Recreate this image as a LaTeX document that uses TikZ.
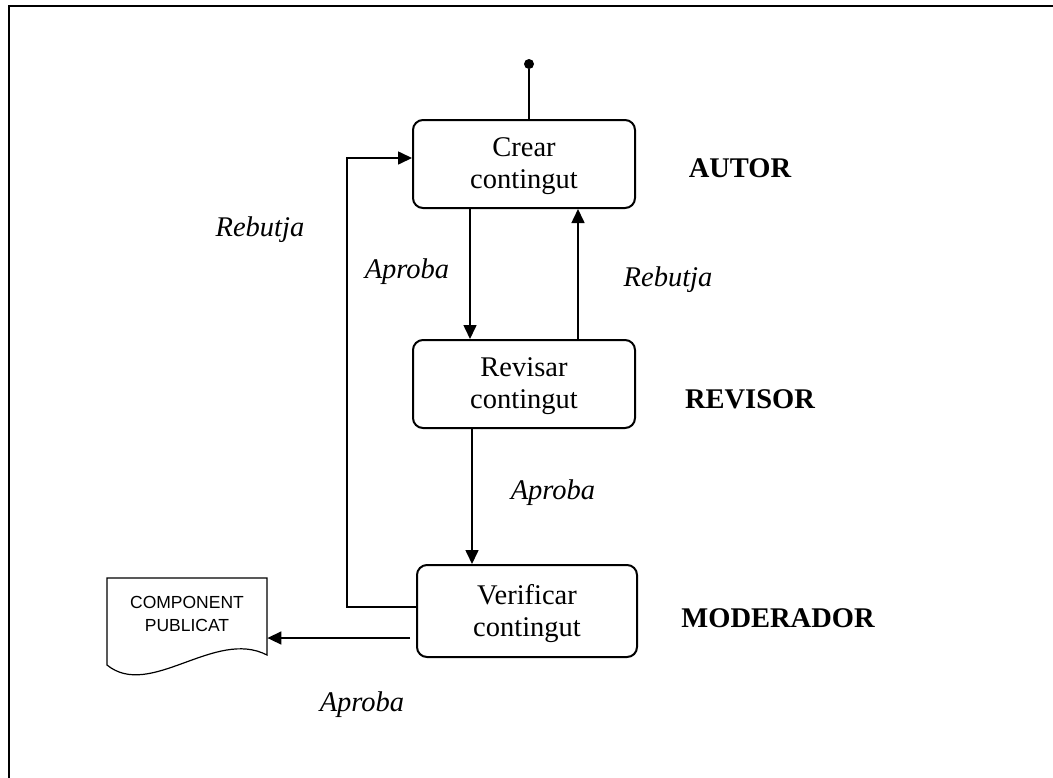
\documentclass[tikz,border=0pt]{standalone}
\usepackage{fontspec}
\setmainfont{Liberation Serif}
\newfontfamily\docfont{Liberation Sans}
\usetikzlibrary{arrows.meta}
\begin{document}
\begin{tikzpicture}[x=0.5pt,y=-0.5pt,
  every node/.style={font=\fontsize{14.25}{16}\selectfont},
  state/.style={draw, line width=1pt, rounded corners=5pt, align=center,
    minimum width=111pt, minimum height=44pt, inner sep=0pt, text depth=1pt},
  role/.style={font=\fontsize{14.25}{16}\selectfont\bfseries},
  cond/.style={font=\fontsize{14.25}{16}\selectfont\itshape},
  arr/.style={line width=0.8pt, -{Triangle[length=7pt,width=6.5pt]}},
  plain/.style={line width=0.8pt}]
\useasboundingbox (0,0) rectangle (1053,777);

% outer frame
\draw[line width=1pt] (1060,6) -- (9,6) -- (9,790);

% states
\node[state] (crear) at (524,164) {Crear\\contingut};
\node[state] (revisar) at (524,384) {Revisar\\contingut};
\node[state, minimum width=110pt, minimum height=46pt] (verificar) at (527,611) {Verificar\\contingut};

% initial point
\node[circle, fill, inner sep=0pt, minimum size=5pt] (start) at (529,64) {};
\draw[plain] (start) -- (crear.north -| start);

% columns and turning points
\coordinate (downA) at (470,0);
\coordinate (upR) at (578,0);
\coordinate (downB) at (472,0);
\coordinate (loopBot) at (347,607);
\coordinate (loopTop) at (347,158);
\coordinate (pubStart) at (410,638);

\draw[arr] (crear.south -| downA) -- (revisar.north -| downA);
\draw[arr] (revisar.north -| upR) -- (crear.south -| upR);
\draw[arr] (revisar.south -| downB) -- (verificar.north -| downB);
\draw[arr] (verificar.west |- loopBot) -- (loopBot) -- (loopTop) -- (crear.west |- loopTop);

% published document
\node[minimum width=80pt, minimum height=40pt, inner sep=0pt, align=center,
  font=\docfont\fontsize{8.75}{11.5}\selectfont] (doc) at (187,614) {COMPONENT\\PUBLICAT};
\draw[line width=0.6pt] (107,578) -- (267,578) -- (267,655)
  .. controls (215,628) and (150,700) .. (107,665) -- cycle;
\draw[arr] (pubStart) -- (doc.east |- pubStart);

% transition labels
\node[cond] (rebL) at (260,230) {Rebutja};
\node[cond] (aprA) at (407,272) {Aproba};
\node[cond] (rebR) at (668,280) {Rebutja};
\node[cond] (aprB) at (553,493) {Aproba};
\node[cond] (aprC) at (362,705) {Aproba};

% roles
\node[role] (autor) at (740,168) {AUTOR};
\node[role] (revisor) at (750,399) {REVISOR};
\node[role] (moderador) at (778,618) {MODERADOR};
\end{tikzpicture}
\end{document}
